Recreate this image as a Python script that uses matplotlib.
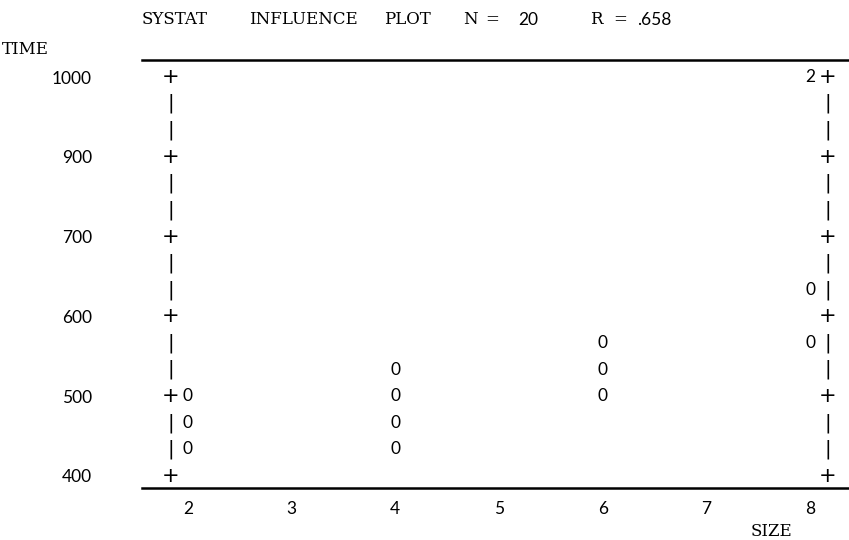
import matplotlib
matplotlib.use("Agg")
import matplotlib.pyplot as plt
import numpy as np
from collections import Counter

# --- Data (SIZE vs TIME, 0 = one case, digit = number of coincident cases) ---
size = [2, 2, 2, 4, 4, 4, 4, 6, 6, 6, 8, 8, 8, 8]
time = [520, 480, 440, 560, 520, 480, 440, 600, 560, 520, 680, 600, 1000, 1000]

x_ticks = [2, 3, 4, 5, 6, 7, 8]
y_ticks = [400, 520, 640, 760, 880, 1000]
y_tick_labels = ["400", "500", "600", "700", "900", "1000"]
row_values = np.arange(400, 1001, 40)  # one printed line per row

title_words = ["SYSTAT", "INFLUENCE", "PLOT", "N", "=", "20", "R", "=", ".658"]
title_x_px = [142, 249, 384, 463, 485, 518, 590, 613, 637]

SERIF = "DejaVu Serif"
SANS = "Lato"

W, H = 849, 540
fig = plt.figure(figsize=(W / 100, H / 100), dpi=100)
ax = fig.add_axes([142 / W, (H - 488) / H, (W - 142) / W, (488 - 60) / H])

ax.set_xlim(1.5563, 8.376)
ax.set_ylim(381.95, 1025.6)

for side in ("left", "right"):
    ax.spines[side].set_visible(False)
for side in ("top", "bottom"):
    ax.spines[side].set_linewidth(1.8)

ax.set_xticks(x_ticks)
ax.set_xticklabels([str(v) for v in x_ticks], fontfamily=SANS, fontsize=12.5)
ax.set_yticks(y_ticks)
ax.set_yticklabels(y_tick_labels, fontfamily=SANS, fontsize=12.5)
ax.tick_params(axis="x", length=0, pad=9)
ax.tick_params(axis="y", length=0, pad=36)

# --- character-style frame columns ---
for xc in (1.836, 8.174):
    for r in row_values:
        if r in y_ticks:
            ax.text(xc, r, "+", ha="center", va="center", fontfamily="DejaVu Sans",
                    fontsize=15)
        else:
            ax.text(xc, r, "|", ha="center", va="center", fontfamily="DejaVu Sans",
                    fontsize=14)

# --- plotted symbols ---
counts = Counter(zip(size, time))
for (sx, ty), n in counts.items():
    sym = "0" if n == 1 else str(n)
    ax.text(sx, ty, sym, ha="center", va="center", fontfamily=SANS, fontsize=12.5)

# --- labels and title ---
ax.set_xlabel("SIZE", fontfamily=SERIF, fontsize=12)
ax.xaxis.set_label_coords((771 - 142) / (W - 142), -(523 - 488) / (488 - 60))
fig.text(2 / W, 1 - 50 / H, "TIME", fontfamily=SERIF, fontsize=12, ha="left", va="center")

for word, xp in zip(title_words, title_x_px):
    fam = SANS if word[-1].isdigit() else SERIF
    fig.text(xp / W, 1 - 20 / H, word, fontfamily=fam, fontsize=12 if fam == SERIF else 12.5,
             ha="left", va="center")

fig.savefig("out.png", dpi=100)
